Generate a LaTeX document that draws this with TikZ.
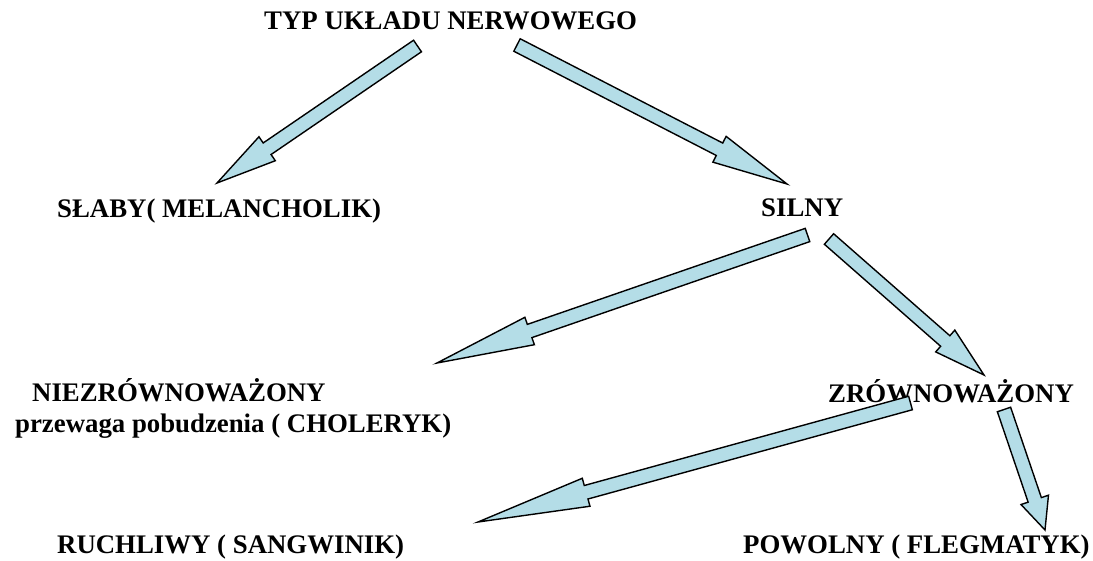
\documentclass[tikz,border=0pt]{standalone}
\usepackage{fontspec}
\setmainfont{Liberation Serif}
\usetikzlibrary{calc}
\definecolor{arrowblue}{RGB}{180,221,231}
\tikzset{
  lbl/.style={anchor=base west, inner sep=0pt, font=\fontsize{26.8}{30}\selectfont\bfseries},
  blockarr/.style={draw=black, fill=arrowblue, line width=1.4pt, line join=miter}
}
\newcommand\blockarrow[2]{%
  \path ($(#2)!0.25!(#1)$) coordinate (nk);
  \draw[blockarr] ($(#1)!7pt!90:(#2)$) -- ($(nk)!7pt!90:(#2)$) -- ($(nk)!14.5pt!90:(#2)$) -- (#2)
     -- ($(nk)!14.5pt!-90:(#2)$) -- ($(nk)!7pt!-90:(#2)$) -- ($(#1)!7pt!-90:(#2)$) -- cycle;}
\begin{document}
\begin{tikzpicture}[x=1pt,y=-1pt]
\useasboundingbox[fill=white] (0,0) rectangle (1093,560);
% texts
\node[lbl] (typ) at (264,29) {TYP UKŁADU NERWOWEGO};
\node[lbl] (slaby) at (57,217) {SŁABY( MELANCHOLIK)};
\node[lbl] (silny) at (761,216) {SILNY};
\node[lbl] (niez) at (32,401) {NIEZRÓWNOWAŻONY};
\node[lbl] (prz) at (15,432) {przewaga pobudzenia ( CHOLERYK)};
\node[lbl] (zrow) at (828,402) {ZRÓWNOWAŻONY};
\node[lbl] (ruch) at (57,553) {RUCHLIWY ( SANGWINIK)};
\node[lbl] (powol) at (743,553) {POWOLNY ( FLEGMATYK)};
% arrow ends
\coordinate (a1s) at (417.5,46);  \coordinate (a1e) at (217,183);
\coordinate (a2s) at (517,45);    \coordinate (a2e) at (787,184);
\coordinate (a3s) at (807.5,235); \coordinate (a3e) at (437,363);
\coordinate (a4s) at (829,239);   \coordinate (a4e) at (984,375);
\coordinate (a5s) at (910.5,403); \coordinate (a5e) at (478,522);
\coordinate (a6s) at (1004,409.5);\coordinate (a6e) at (1045,530);
\blockarrow{a1s}{a1e}
\blockarrow{a2s}{a2e}
\blockarrow{a3s}{a3e}
\blockarrow{a4s}{a4e}
\blockarrow{a5s}{a5e}
\blockarrow{a6s}{a6e}
\end{tikzpicture}
\end{document}
